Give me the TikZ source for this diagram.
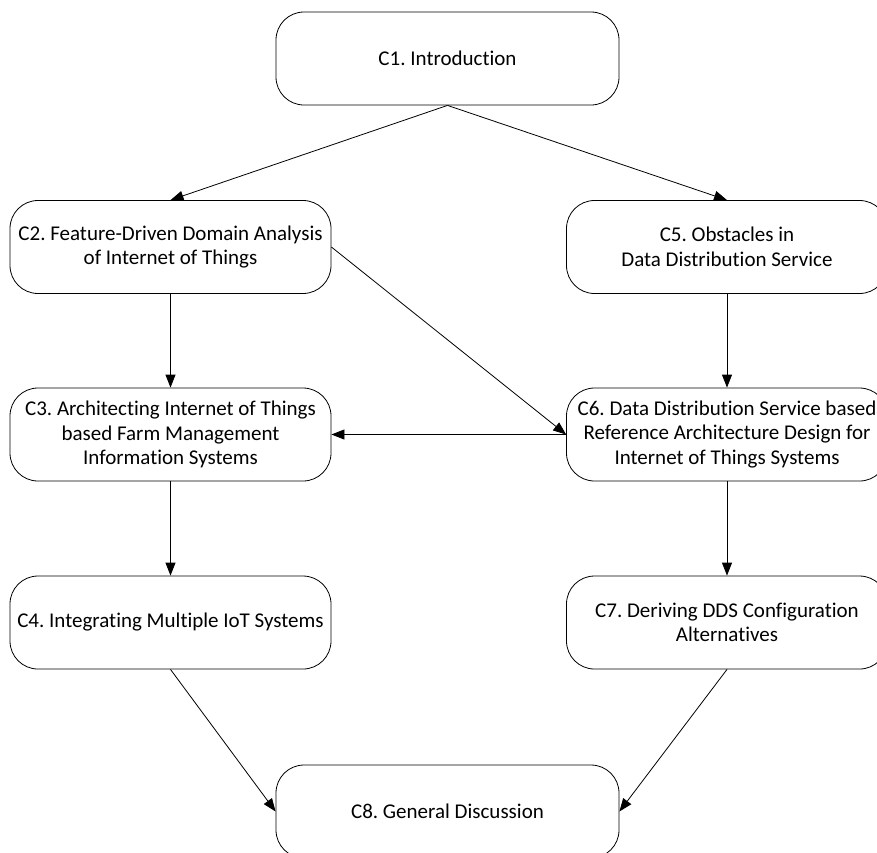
\documentclass[tikz,border=0pt]{standalone}
\usepackage{fontspec}
\setmainfont{Carlito}[Ligatures={NoCommon}]
\usetikzlibrary{arrows.meta}
\frenchspacing
\begin{document}
\begin{tikzpicture}[x=1pt,y=-1pt,
  chap/.style={draw, line width=0.8pt, rounded corners=28pt,
    minimum width=321pt, minimum height=93pt, align=center, inner sep=0pt,
    font=\fontsize{21}{24.5}\selectfont},
  link/.style={draw, line width=0.8pt, -{Triangle[length=13pt,width=10pt]}}]
\clip (0,0) rectangle (877,852);
% chapter boxes
\node[chap, minimum width=343pt] (c1) at (447.5,58.5) {C1. Introduction};
\node[chap] (c2) at (170.5,247) {C2. Feature-Driven Domain Analysis\\of Internet of Things};
\node[chap] (c5) at (727,247) {C5. Obstacles in\\Data Distribution Service};
\node[chap] (c3) at (170.5,434.5) {C3. Architecting Internet of Things\\based Farm Management\\Information Systems};
\node[chap] (c6) at (727,434.5) {C6. Data Distribution Service based\\Reference Architecture Design for\\Internet of Things Systems};
\node[chap] (c4) at (170.5,622.5) {C4. Integrating Multiple IoT Systems};
\node[chap] (c7) at (727,622.5) {C7. Deriving DDS Configuration\\Alternatives};
\node[chap, minimum width=343pt] (c8) at (447.5,811.5) {C8. General Discussion};
% dependencies
\draw[link] (c1.south) -- (c2.north);
\draw[link] (c1.south) -- (c5.north);
\draw[link] (c2.south) -- (c3.north);
\draw[link] (c5.south) -- (c6.north);
\draw[link] (c2.east) -- (c6.west);
\draw[link] (c6.west) -- (c3.east);
\draw[link] (c3.south) -- (c4.north);
\draw[link] (c6.south) -- (c7.north);
\draw[link] (c4.south) -- (c8.west);
\draw[link] (c7.south) -- (c8.east);
\end{tikzpicture}
\end{document}
